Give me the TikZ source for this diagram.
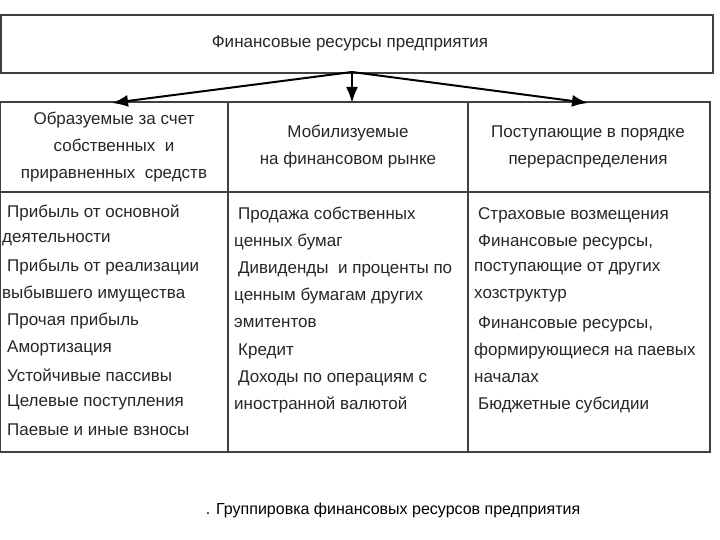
\documentclass[tikz,border=0pt]{standalone}
\usepackage{fontspec}
\setmainfont{Liberation Sans}
\usetikzlibrary{arrows.meta}
\begin{document}
\begin{tikzpicture}[x=1pt,y=-1pt,
  box/.style={draw=black!75,line width=1.6pt},
  txt/.style={font=\fontsize{17}{20}\selectfont,inner sep=0pt,text=black!85},
  hd/.style={txt,align=center,font=\fontsize{17}{27}\selectfont},
  ln/.style={txt,anchor=west},
  arr/.style={line width=2pt,-{Latex[length=16pt,width=12pt]}}]
\useasboundingbox (0,0) rectangle (720,540);
\node[box,minimum width=712pt,minimum height=58pt,anchor=north west,inner sep=0pt] (top) at (0,14) {};
\node[txt] (toptxt) at (350,43) {Финансовые ресурсы предприятия};
\draw[box] (0,102) rectangle (710,452);
\draw[box] (0,192) -- (710,192);
\draw[box] (228,102) -- (228,452);
\draw[box] (468,102) -- (468,452);
\coordinate (src) at (352,72);
\coordinate (h1) at (112,103);
\coordinate (h2) at (352,103);
\coordinate (h3) at (588,103);
\draw[arr] (src) -- (h1);
\draw[arr] (src) -- (h2);
\draw[arr] (src) -- (h3);
\node[hd] (c1) at (114,147) {Образуемые за счет\\собственных\ \ и\\приравненных\ \ средств};
\node[hd] (c2) at (348,147) {Мобилизуемые\\на финансовом рынке};
\node[hd] (c3) at (588,147) {Поступающие в порядке\\перераспределения};
\node[ln] (l1) at (7,213) {Прибыль от основной};
\node[ln] (l2) at (2,240) {деятельности};
\node[ln] (l3) at (7,267) {Прибыль от реализации};
\node[ln] (l4) at (2,294) {выбывшего имущества};
\node[ln] (l5) at (7,321) {Прочая прибыль};
\node[ln] (l6) at (7,348) {Амортизация};
\node[ln] (l7) at (7,375) {Устойчивые пассивы};
\node[ln] (l8) at (7,402) {Целевые поступления};
\node[ln] (l9) at (7,430) {Паевые и иные взносы};
\node[ln] (m1) at (238,215) {Продажа собственных};
\node[ln] (m2) at (234,242) {ценных бумаг};
\node[ln] (m3) at (238,269) {Дивиденды\ \ и проценты по};
\node[ln] (m4) at (234,296) {ценным бумагам других};
\node[ln] (m5) at (234,323) {эмитентов};
\node[ln] (m6) at (238,351) {Кредит};
\node[ln] (m7) at (238,378) {Доходы по операциям с};
\node[ln] (m8) at (234,405) {иностранной валютой};
\node[ln] (r1) at (478,215) {Страховые возмещения};
\node[ln] (r2) at (478,242) {Финансовые ресурсы,};
\node[ln] (r3) at (474,269) {поступающие от других};
\node[ln] (r4) at (474,296) {хозструктур};
\node[ln] (r5) at (478,324) {Финансовые ресурсы,};
\node[ln] (r6) at (474,351) {формирующиеся на паевых};
\node[ln] (r7) at (474,378) {началах};
\node[ln] (r8) at (478,405) {Бюджетные субсидии};
\node[txt,font=\fontsize{16}{18}\selectfont,text=black] (cap) at (393,510) {. Группировка финансовых ресурсов предприятия};
\end{tikzpicture}
\end{document}
